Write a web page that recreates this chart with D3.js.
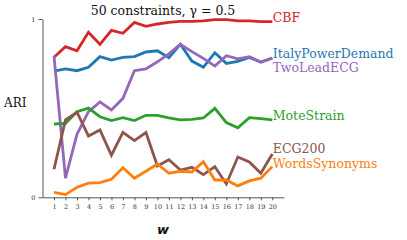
<!DOCTYPE html>
<html>
<head>
<meta charset="utf-8">
<script src="https://cdn.jsdelivr.net/npm/d3@7"></script>
<style>
  body { margin: 0; background: #fff; }
  text { font-family: 'DejaVu Serif', serif; }
</style>
</head>
<body>
<div class="outer-container"></div>
<script>
const windows = d3.range(1, 21)
const seriesNames = ['CBF', 'ItalyPowerDemand', 'TwoLeadECG', 'MoteStrain', 'ECG200', 'WordsSynonyms']
const seriesColors = ['#d62728', '#1f77b4', '#9467bd', '#2ca02c', '#8c564b', '#ff7f0e']

const cbf = [0.785, 0.845, 0.822, 0.925, 0.858, 0.936, 0.92, 0.981, 0.959, 0.972, 0.981, 0.987, 0.987, 0.99, 0.996, 0.996, 0.989, 0.989, 0.985, 0.985]
const italy = [0.708, 0.72, 0.71, 0.729, 0.789, 0.77, 0.785, 0.789, 0.815, 0.822, 0.783, 0.858, 0.764, 0.729, 0.811, 0.751, 0.762, 0.785, 0.759, 0.781]
const twoLead = [0.793, 0.107, 0.353, 0.48, 0.535, 0.49, 0.555, 0.71, 0.72, 0.76, 0.804, 0.858, 0.817, 0.779, 0.736, 0.794, 0.777, 0.789, 0.757, 0.78]
const mote = [0.411, 0.415, 0.48, 0.5, 0.452, 0.43, 0.447, 0.43, 0.46, 0.46, 0.445, 0.434, 0.437, 0.445, 0.499, 0.419, 0.39, 0.447, 0.441, 0.434]
const ecg200 = [0.157, 0.434, 0.477, 0.344, 0.378, 0.236, 0.364, 0.318, 0.363, 0.176, 0.211, 0.153, 0.168, 0.127, 0.172, 0.075, 0.226, 0.198, 0.135, 0.243]
const words = [0.028, 0.015, 0.056, 0.079, 0.082, 0.101, 0.166, 0.107, 0.146, 0.187, 0.135, 0.146, 0.142, 0.2, 0.097, 0.097, 0.064, 0.092, 0.107, 0.172]

const seriesValues = [cbf, italy, twoLead, mote, ecg200, words]
// label nudges so stacked labels don't collide
const labelShift = [0, 0, 14, 0, -1, 1.5]

const w = 407
const h = 240

const xScale = d3.scaleLinear()
  .domain([0, 21])
  .range([42.5, 283.8])

const yScale = d3.scaleLinear()
  .domain([0, 1])
  .range([197.3, 19])

const svg = d3.select('.outer-container')
  .append('svg')
  .attr('width', w)
  .attr('height', h)

const xAxis = d3.axisBottom(xScale)
  .tickValues(windows)
  .tickSizeInner(3)
  .tickSizeOuter(0)
  .tickFormat(d3.format('d'))

const yAxis = d3.axisLeft(yScale)
  .tickValues([0, 1])
  .tickSizeInner(4)
  .tickSizeOuter(0)
  .tickFormat(d3.format('d'))

const gx = svg.append('g')
  .attr('transform', 'translate(0, ' + yScale(0) + ')')
  .call(xAxis)
gx.selectAll('text')
  .attr('font-family', 'DejaVu Serif')
  .attr('font-size', 6.5)
  .attr('fill', '#333')
  .attr('dy', '0.9em')

const gy = svg.append('g')
  .attr('transform', 'translate(' + xScale(0) + ', 0)')
  .call(yAxis)
gy.selectAll('text')
  .attr('font-family', 'DejaVu Serif')
  .attr('font-size', 6.5)
  .attr('fill', '#333')

svg.selectAll('.domain, .tick line')
  .attr('stroke', '#444')
  .attr('stroke-width', 0.9)

const line = d3.line()
  .x((d, i) => xScale(windows[i]))
  .y(d => yScale(d))

svg.selectAll('path.series')
  .data(seriesValues)
  .enter()
  .append('path')
  .attr('class', 'series')
  .attr('d', line)
  .attr('fill', 'none')
  .attr('stroke', (d, i) => seriesColors[i])
  .attr('stroke-width', 2.8)
  .attr('stroke-linejoin', 'miter')

svg.selectAll('text.label')
  .data(seriesNames)
  .enter()
  .append('text')
  .attr('class', 'label')
  .attr('x', xScale(20) + 0.5)
  .attr('y', (d, i) => yScale(seriesValues[i][19]) + labelShift[i])
  .attr('font-size', 12.5)
  .attr('fill', (d, i) => seriesColors[i])
  .text(d => d)

svg.append('text')
  .attr('x', 163)
  .attr('y', 14.5)
  .attr('text-anchor', 'middle')
  .attr('font-size', 12.5)
  .attr('fill', '#111')
  .text('50 constraints, \u03b3 = 0.5')

svg.append('text')
  .attr('x', 4)
  .attr('y', 107)
  .attr('font-size', 12)
  .attr('fill', '#111')
  .text('ARI')

svg.append('text')
  .attr('x', 163)
  .attr('y', 234)
  .attr('text-anchor', 'middle')
  .style('font-family', 'DejaVu Sans')
  .attr('font-size', 13)
  .attr('font-weight', 'bold')
  .attr('font-style', 'italic')
  .attr('fill', '#111')
  .text('w')
</script>
</body>
</html>
